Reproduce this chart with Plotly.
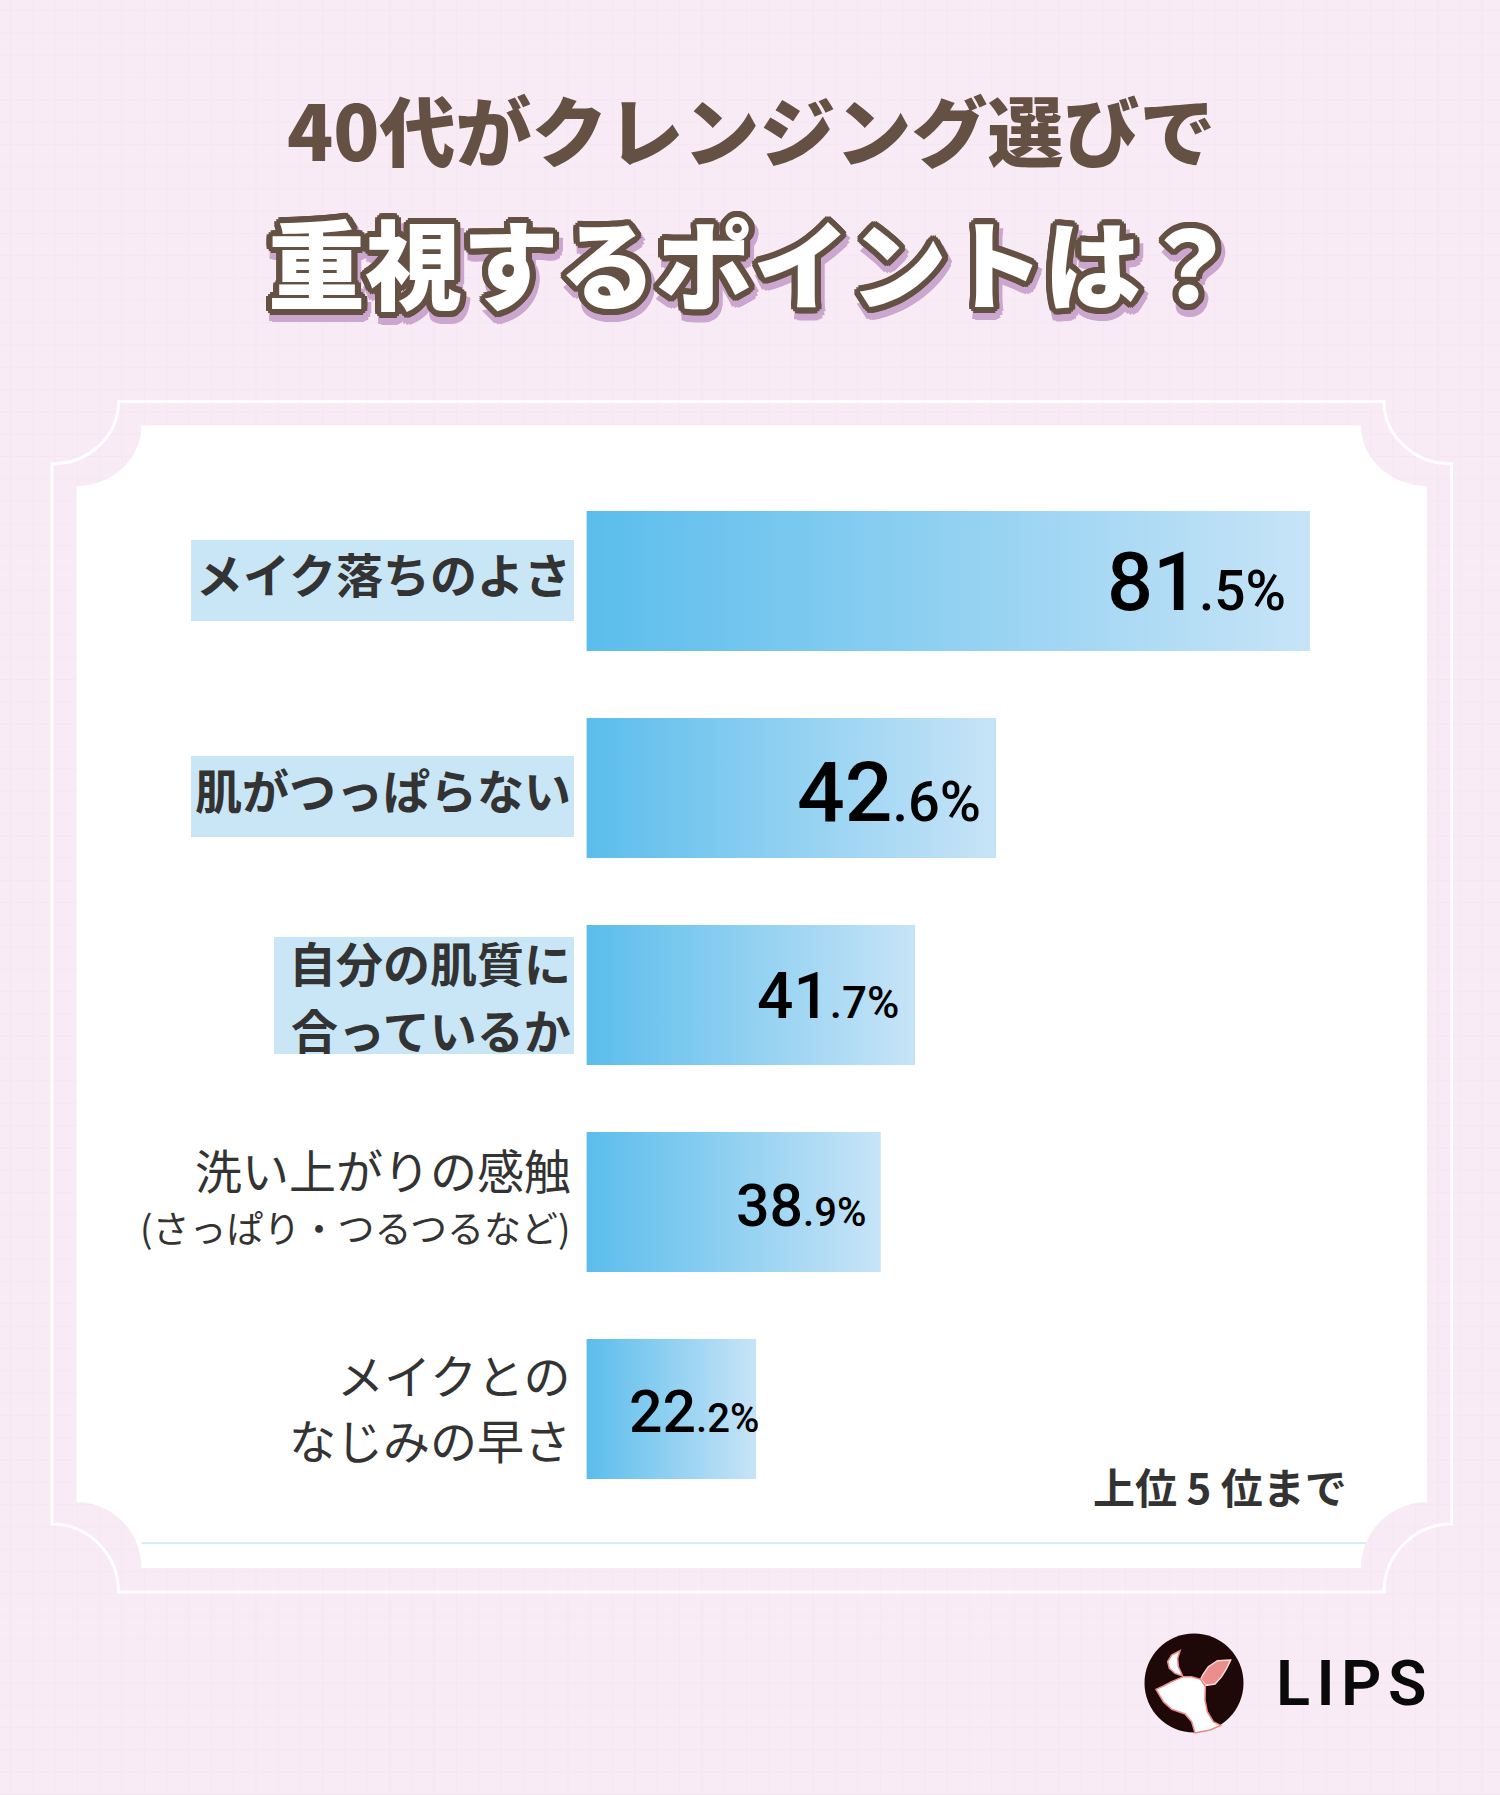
import plotly.graph_objects as go

# ---------- data ----------
category_lines = [["メイク落ちのよさ"], ["肌がつっぱらない"], ["自分の肌質に", "合っているか"],
                  ["洗い上がりの感触", "(さっぱり・つるつるなど)"], ["メイクとの", "なじみの早さ"]]
values = [81.5, 42.6, 41.7, 38.9, 22.2]          # printed percentages
bar_lengths = [81.5, 46.1, 37.0, 33.1, 19.1]     # drawn lengths
positions = [0, 1, 2, 3, 4]
title_line1 = "40代がクレンジング選びで"
title_line2 = "重視するポイントは？"
note = "上位 5 位まで"
brand = "L\u200aI\u200aP\u200aS"

W, H = 1500, 1795
JP = "Noto Sans CJK JP"
LAT = "Roboto"
BROWN = "#655143"
INK = "#333333"


def px(x):
    return x / W


def py(y):
    return 1 - y / H


def P(x, y):
    return f"{px(x):.5f},{py(y):.5f}"


def notched(l, t, r, b, lt, tt, rt, bb, k=0.55):
    """Frame with concave corners. l/t/r/b outer edges, lt/rt inner x at top/bottom, tt/bb y."""
    dx1, dy1 = lt - l, tt - t
    dx2, dy2 = r - rt, b - bb
    return ("M" + P(lt, t) + " L" + P(rt, t)
            + " C" + P(rt, t + k * dy1) + " " + P(r - k * dx2, tt) + " " + P(r, tt)
            + " L" + P(r, bb)
            + " C" + P(r - k * dx2, bb) + " " + P(rt, b - k * dy2) + " " + P(rt, b)
            + " L" + P(lt, b)
            + " C" + P(lt, b - k * dy2) + " " + P(l + k * dx1, bb) + " " + P(l, bb)
            + " L" + P(l, tt)
            + " C" + P(l + k * dx1, tt) + " " + P(lt, t + k * dy1) + " " + P(lt, t) + " Z")


def rel(points, ox=1130, oy=1620, s=3):
    return [(ox + a / s, oy + b / s) for a, b in points]


def poly(points):
    pts = rel(points)
    return "M" + " L".join(P(a, b) for a, b in pts) + " Z"


shapes = []
base = dict(type="path", xref="paper", yref="paper", layer="below")

# background grid
grid = ""
x = 10.5
while x < W:
    grid += f"M{P(x, 0)} L{P(x, H)} "
    x += 22.3
y = 10.5
while y < H:
    grid += f"M{P(0, y)} L{P(W, y)} "
    y += 22.3
shapes.append(dict(base, path=grid, line=dict(color="#F5E7F1", width=1)))

# panel and its outline
shapes.append(dict(base, path=notched(76.5, 425.5, 1427, 1568, 141.5, 486, 1361, 1502),
                   fillcolor="#FFFFFF", line=dict(width=0)))
shapes.append(dict(base, path=notched(52, 401.5, 1451.5, 1592, 118.5, 464, 1384, 1524),
                   line=dict(color="#FFFFFF", width=3)))
shapes.append(dict(type="line", xref="paper", yref="paper", layer="below",
                   x0=px(141.5), x1=px(1366), y0=py(1543), y1=py(1543),
                   line=dict(color="#C9E6F6", width=1.6)))

# highlight plates behind the first three labels
for (a, t, b, e) in [(191, 540, 574, 621), (191, 756, 574, 837), (274, 937, 574, 1054)]:
    shapes.append(dict(type="rect", xref="paper", yref="paper", layer="below",
                       x0=px(a), x1=px(b), y0=py(t), y1=py(e),
                       fillcolor="#C9E6F6", line=dict(width=0)))

# logo
shapes.append(dict(type="circle", xref="paper", yref="paper", layer="above",
                   x0=px(1144.5), x1=px(1243.5), y0=py(1633.5), y1=py(1732.5),
                   fillcolor="#1E0808", line=dict(width=0)))
crescent = [(150, 92), (125, 105), (113, 125), (118, 145), (135, 160), (158, 168), (145, 140), (143, 115)]
ear = [(302, 120), (262, 122), (235, 140), (218, 165), (212, 178), (228, 196), (255, 192), (275, 170), (290, 145)]
head = [(78, 208), (100, 198), (125, 185), (160, 170), (185, 170), (212, 178), (226, 200), (225, 240),
        (232, 275), (250, 305), (272, 316), (240, 330), (195, 339), (185, 305), (165, 282), (125, 268), (100, 245)]
shapes.append(dict(base, layer="above", path=poly(crescent), fillcolor="#FFFFFF", line=dict(color="#E88A88", width=1.5)))
shapes.append(dict(base, layer="above", path=poly(ear), fillcolor="#EC8F8C", line=dict(color="#F8D8D8", width=1.5)))
shapes.append(dict(base, layer="above", path=poly(head), fillcolor="#FFFFFF", line=dict(color="#E88A88", width=1.5)))

fig = go.Figure()

# bars
fig.add_trace(go.Bar(x=bar_lengths, y=positions, orientation="h", width=0.676,
                     marker=dict(color="#90CCF0", line=dict(width=0)), hoverinfo="skip", showlegend=False))
# gradient skin on each bar, from the same lengths
half = 0.338
for p, L in zip(positions, bar_lengths):
    fig.add_trace(go.Scatter(x=[0, L, L, 0, 0], y=[p - half, p - half, p + half, p + half, p - half],
                             mode="none", fill="toself",
                             fillgradient=dict(type="horizontal", colorscale=[[0, "#5BBDEC"], [1, "#C7E4F7"]]),
                             hoverinfo="skip", showlegend=False))

annotations = []


def ann(text, x, y, size, color=INK, family=JP, weight=400, style="normal", xanchor="center",
        yanchor="middle", shadow="none", xref="paper", yref="paper", xshift=0, yshift=0):
    annotations.append(dict(text=text, x=x, y=y, xref=xref, yref=yref, xanchor=xanchor, yanchor=yanchor,
                            xshift=xshift, yshift=yshift, showarrow=False, align="right" if xanchor == "right" else "center",
                            font=dict(size=size, color=color, family=family, weight=weight, style=style, shadow=shadow)))


# title
ann(title_line1, px(751), py(128), 76, BROWN, weight=900)
o = 6
outline = [f"{a}px {b}px 0 {BROWN}" for a, b in
           [(o, 0), (-o, 0), (0, o), (0, -o), (4, 4), (-4, 4), (4, -4), (-4, -4), (6, 2), (-6, 2), (6, -2), (-6, -2), (2, 6), (-2, 6), (2, -6), (-2, -6)]]
purple = [f"{a}px {b}px 0 #CBA6CF" for a, b in [(3, 13), (7, 11), (-3, 12), (0, 13), (5, 12), (9, 8), (10, 4)]]
ann(title_line2, px(753), py(259), 97, "#FFFFFF", weight=900, shadow=", ".join(outline + purple))

# category labels
weights = [700, 700, 700, 400, 400]
line_sizes = [[47], [47], [47, 47], [47, 37], [47, 47]]
line_shifts = [[8.5], [-0.8], [33.5, -33.5], [33.5, -24.5], [35.5, -29.5]]
for lines, p, w, sizes, shifts in zip(category_lines, positions, weights, line_sizes, line_shifts):
    for t, sz, s in zip(lines, sizes, shifts):
        ann(t, px(573), p, sz, INK, weight=w, xanchor="right", yref="y", yshift=s)

# value labels
big = [81, 84, 64, 59, 59]
small = [55, 56, 44, 40, 40]
inset = [22, 13, 14, 12, -5]
dy = [-1.5, -4, -1, -3, -2]
for v, L, p, b, s, i, d in zip(values, bar_lengths, positions, big, small, inset, dy):
    whole, dec = f"{v:.1f}".split(".")
    ann(f'{whole}<span style="font-size:{s}px">.{dec}%</span>', L, p, b, "#000000", family=LAT, weight=500,
        xanchor="right", xref="x", yref="y", xshift=-i, yshift=d)

ann(note, px(1349), py(1485), 42, INK, weight=700, xanchor="right")
ann(brand, px(1351), py(1683), 63, "#0A0A0A", family=LAT, weight=600)

fig.update_layout(
    width=W, height=H, margin=dict(l=0, r=0, t=0, b=0, pad=0),
    paper_bgcolor="#F8EBF5", plot_bgcolor="rgba(0,0,0,0)", showlegend=False, barmode="overlay",
    shapes=shapes, annotations=annotations,
    xaxis=dict(domain=[px(586.5), px(586.5 + 887.7)], range=[0, 100], visible=False, fixedrange=True),
    yaxis=dict(domain=[py(1512.5), py(477.5)], range=[4.5, -0.5], visible=False, fixedrange=True),
)

fig.write_html("out.html", config=dict(displayModeBar=False),
               post_script="document.body.style.margin='0';document.body.style.background='#F8EBF5';")
